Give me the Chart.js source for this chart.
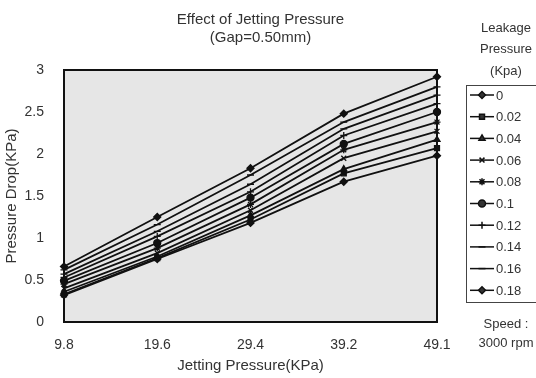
<!DOCTYPE html>
<html>
<head>
<meta charset="utf-8">
<script src="https://cdn.jsdelivr.net/npm/chart.js@4/dist/chart.umd.min.js"></script>
<style>
  html, body { margin: 0; padding: 0; background: #fff; }
  #wrap { position: relative; width: 536px; height: 378px; }
</style>
</head>
<body>
<div id="wrap"><canvas id="chart" width="536" height="378"></canvas></div>
<script>
// Jetting pressure categories (KPa)
const jettingPressure = ['9.8', '19.6', '29.4', '39.2', '49.1'];

// Leakage pressure series (Kpa) - pressure drop readings
const leak0    = [0.32, 0.75, 1.18, 1.67, 1.98];
const leak002  = [0.33, 0.76, 1.22, 1.77, 2.07];
const leak004  = [0.36, 0.78, 1.27, 1.82, 2.17];
const leak006  = [0.40, 0.82, 1.33, 1.95, 2.27];
const leak008  = [0.45, 0.88, 1.40, 2.05, 2.38];
const leak010  = [0.49, 0.94, 1.48, 2.12, 2.50];
const leak012  = [0.53, 1.02, 1.55, 2.22, 2.60];
const leak014  = [0.57, 1.08, 1.64, 2.30, 2.70];
const leak016  = [0.62, 1.16, 1.75, 2.38, 2.80];
const leak018  = [0.66, 1.25, 1.83, 2.48, 2.92];

const seriesLabels = ['0', '0.02', '0.04', '0.06', '0.08', '0.1', '0.12', '0.14', '0.16', '0.18'];
const seriesData = [leak0, leak002, leak004, leak006, leak008, leak010, leak012, leak014, leak016, leak018];
const seriesMarkers = ['rectRot', 'rect', 'triangle', 'crossRot', 'star', 'circle', 'cross', 'line', 'line', 'rectRot'];

// y axis tick labels, bottom to top
const yTickLabels = ['0', '0.5', '1', '1.5', '2', '2.5', '3'];

const titleLines = ['Effect of Jetting Pressure', '(Gap=0.50mm)'];
const legendTitle = ['Leakage', 'Pressure', '(Kpa)'];
const noteLines = ['Speed :', '3000 rpm'];

const FONT = '"Liberation Sans", Arial, sans-serif';
const TEXT = '#333';

// Plot background, frame, title and the side legend
const decorPlugin = {
    id: 'decor',
    beforeDraw(chart) {
        const { ctx, chartArea: a } = chart;
        ctx.save();
        ctx.fillStyle = '#e6e6e6';
        ctx.fillRect(a.left, a.top, a.right - a.left, a.bottom - a.top);
        ctx.restore();
    },
    afterDatasetsDraw(chart) {
        const { ctx, chartArea: a } = chart;
        ctx.save();
        ctx.strokeStyle = '#111';
        ctx.lineWidth = 2;
        ctx.strokeRect(a.left, a.top, a.right - a.left, a.bottom - a.top);

        ctx.fillStyle = TEXT;
        ctx.font = '15px ' + FONT;
        ctx.textAlign = 'center';
        ctx.textBaseline = 'middle';
        const cx = (a.left + a.right) / 2 + 10;
        titleLines.forEach((t, i) => ctx.fillText(t, cx, 20 + i * 18));

        // legend title and note
        ctx.font = '13px ' + FONT;
        legendTitle.forEach((t, i) => ctx.fillText(t, 506, 28 + i * 21.5));
        noteLines.forEach((t, i) => ctx.fillText(t, 506, 324 + i * 19));

        // legend box
        ctx.strokeStyle = '#444';
        ctx.lineWidth = 1;
        ctx.strokeRect(466.5, 85.5, 80, 217);

        ctx.textAlign = 'left';
        chart.data.datasets.forEach((ds, i) => {
            const y = 95 + i * 21.7;
            ctx.strokeStyle = '#111';
            ctx.lineWidth = 1.5;
            ctx.beginPath();
            ctx.moveTo(470, y);
            ctx.lineTo(494, y);
            ctx.stroke();
            Chart.helpers.drawPoint(ctx, {
                pointStyle: ds.pointStyle,
                radius: 3.5,
                rotation: 0,
                borderWidth: 1.3
            }, 482, y);
            ctx.fillStyle = TEXT;
            ctx.fillText(ds.label, 496, y + 1);
        });
        ctx.restore();
    }
};

const datasets = seriesData.map((vals, i) => ({
    label: seriesLabels[i],
    data: vals,
    borderColor: '#111',
    backgroundColor: '#111',
    pointBorderColor: '#111',
    pointBackgroundColor: '#111',
    borderWidth: 1.8,
    pointStyle: seriesMarkers[i],
    pointRadius: 3.5,
    pointBorderWidth: 1.3,
    tension: 0
}));

new Chart(document.getElementById('chart'), {
    type: 'line',
    data: { labels: jettingPressure, datasets },
    options: {
        responsive: false,
        animation: false,
        layout: { padding: { left: 0, right: 99, top: 70, bottom: 0 } },
        plugins: {
            legend: { display: false },
            title: { display: false },
            tooltip: { enabled: false }
        },
        scales: {
            x: {
                type: 'category',
                offset: false,
                afterFit(scale) { scale.height = 56; },
                grid: { display: false },
                border: { display: false },
                ticks: { color: TEXT, font: { family: FONT, size: 14 }, padding: 7, maxRotation: 0 },
                title: {
                    display: true,
                    text: 'Jetting Pressure(KPa)',
                    color: TEXT,
                    font: { family: FONT, size: 15 },
                    padding: { top: 3, bottom: 3 }
                }
            },
            y: {
                min: 0,
                max: 3,
                afterFit(scale) { scale.width = 64; },
                grid: { display: false },
                border: { display: false },
                ticks: {
                    stepSize: 0.5,
                    color: TEXT,
                    font: { family: FONT, size: 14 },
                    padding: 12,
                    callback: (v, i) => yTickLabels[i]
                },
                title: {
                    display: true,
                    text: 'Pressure Drop(KPa)',
                    color: TEXT,
                    font: { family: FONT, size: 15 },
                    padding: { top: 3, bottom: 3 }
                }
            }
        }
    },
    plugins: [decorPlugin]
});
</script>
</body>
</html>
